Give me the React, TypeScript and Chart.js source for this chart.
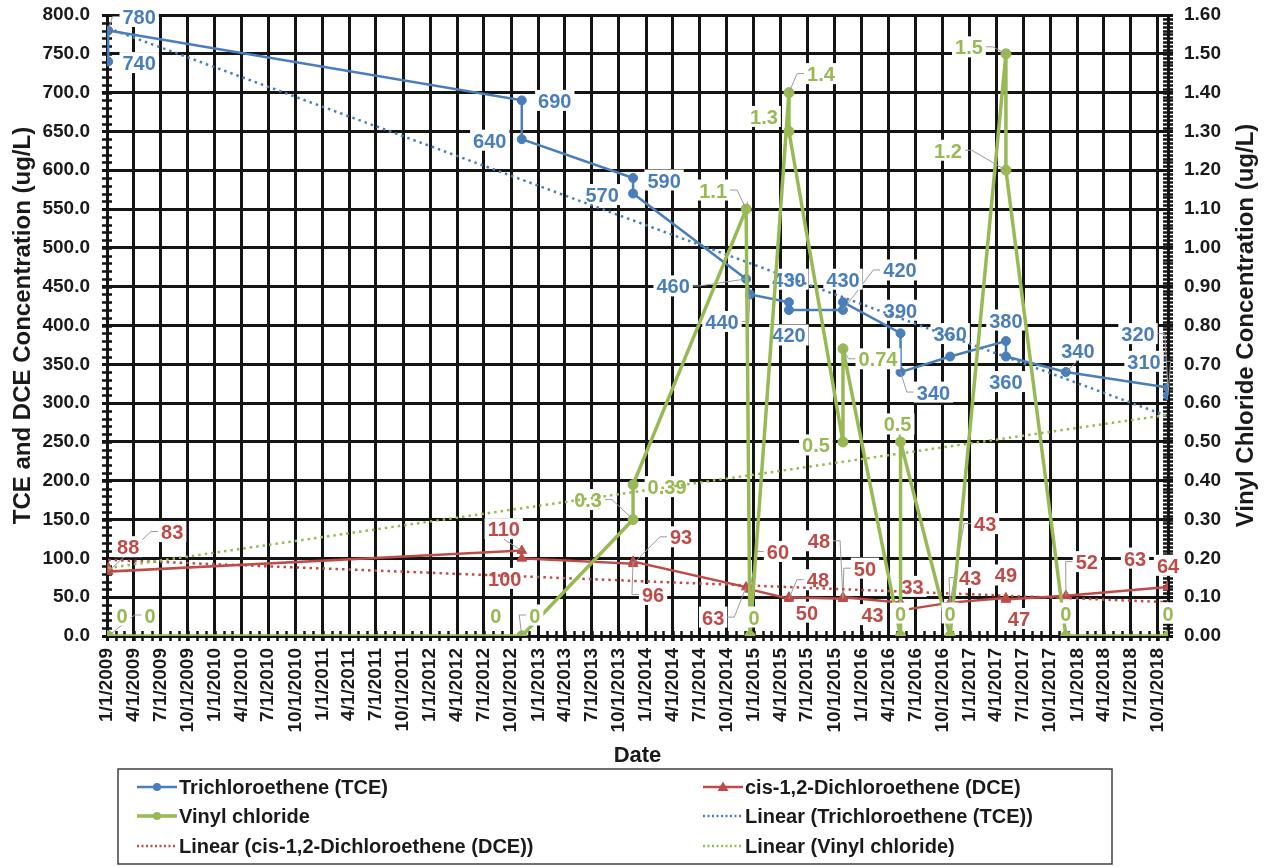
import React, { useEffect, useRef } from 'react';
import { Chart, registerables } from 'chart.js';

Chart.register(...registerables);

// ---------- data ----------
const sampleDates = [
  '1/5/2009', '1/5/2009', '11/6/2012', '11/6/2012', '11/18/2013', '11/18/2013',
  '12/6/2014', '12/19/2014', '4/30/2015', '4/30/2015', '10/30/2015', '10/30/2015',
  '5/12/2016', '5/12/2016', '10/27/2016', '10/27/2016', '5/4/2017', '5/4/2017',
  '11/23/2017', '11/4/2018', '11/4/2018',
];
const tceValues = [740, 780, 690, 640, 590, 570, 460, 440, 430, 420, 420, 430, 390, 340, 360, null, 380, 360, 340, 320, 310];
const dceValues = [88, 83, 110, 100, 93, 96, 63, 60, 48, 50, 48, 50, 43, 33, 43, 43, 49, 47, 52, 63, 64];
const vcValues = [0, 0, 0, 0, 0.3, 0.39, 1.1, 0, 1.4, 1.3, 0.5, 0.74, 0, 0.5, 0, null, 1.5, 1.2, 0, 0, 0];

// linear trend lines (start value, end value)
const tceTrend = [783, 283];
const dceTrend = [98, 43.6];
const vcTrend = [0.175, 0.57];

const xTickLabels = [
  '1/1/2009', '4/1/2009', '7/1/2009', '10/1/2009', '1/1/2010', '4/1/2010', '7/1/2010', '10/1/2010',
  '1/1/2011', '4/1/2011', '7/1/2011', '10/1/2011', '1/1/2012', '4/1/2012', '7/1/2012', '10/1/2012',
  '1/1/2013', '4/1/2013', '7/1/2013', '10/1/2013', '1/1/2014', '4/1/2014', '7/1/2014', '10/1/2014',
  '1/1/2015', '4/1/2015', '7/1/2015', '10/1/2015', '1/1/2016', '4/1/2016', '7/1/2016', '10/1/2016',
  '1/1/2017', '4/1/2017', '7/1/2017', '10/1/2017', '1/1/2018', '4/1/2018', '7/1/2018', '10/1/2018',
];

const seriesNames = [
  'Trichloroethene (TCE)',
  'cis-1,2-Dichloroethene (DCE)',
  'Vinyl chloride',
  'Linear (Trichloroethene (TCE))',
  'Linear (cis-1,2-Dichloroethene (DCE))',
  'Linear (Vinyl chloride)',
];

const leftAxis = { min: 0, max: 800, step: 50, minor: 10 };
const rightAxis = { min: 0, max: 1.6, step: 0.1, minor: 0.01 };

// ---------- label placement (offset of label centre from its point, leader flag) ----------
const tceLabelPos: number[][] = [
  [31, 1, 0], [31, -14, 1], [33, 0, 0], [-32, 1, 0], [31, 2, 0], [-31, 1, 0],
  [-73, 7, 1], [-28, 27, 1], [0, -23, 0], [0, 25, 0], [57, -40, 1], [0, -23, 0],
  [0, -23, 0], [33, 20, 1], [0, -23, 0], [0, 0, 0], [0, -21, 0], [0, 25, 0],
  [12, -22, 1], [-30, -54, 1], [-24, -34, 1],
];
const dceLabelPos: number[][] = [
  [20, -21, 0], [64, -40, 1], [-18, -22, 1], [-17, 20, 0], [48, -27, 1], [20, 33, 1],
  [-33, 30, 1], [28, -38, 1], [29, -19, 1], [18, 15, 0], [-24, -58, 1], [22, -29, 1],
  [-28, 12, 0], [12, -24, 0], [20, -25, 1], [35, -79, 1], [0, -23, 0], [13, 19, 0],
  [21, -34, 1], [-33, -29, 0], [0, -21, 0],
];
const vcLabelPos: number[][] = [
  [14, -21, 0], [42, -21, 1], [-26, -21, 0], [13, -21, 1], [-45, -20, 1], [34, 2, 0],
  [-33, -19, 1], [4, -19, 0], [32, -19, 1], [-25, -15, 0], [-27, 3, 0], [35, 10, 1],
  [0, -23, 0], [-3, -18, 0], [0, -23, 0], [0, 0, 0], [-37, -7, 1], [-58, -20, 1],
  [0, -23, 0], [0, -23, 0], [0, -23, 0],
];

// ---------- styles ----------
const BLUE = '#4a7ebb';
const RED = '#be4b48';
const GREEN = '#98b954';
const INK = '#1a1a1a';
const GRID = '#141414';
const FONT = '"Liberation Sans", Arial, Helvetica, sans-serif';

const parseDate = (s: string) => {
  const [m, d, y] = s.split('/').map(Number);
  return Date.UTC(y, m - 1, d);
};
const fmtDate = (v: number) => {
  const d = new Date(v);
  return `${d.getUTCMonth() + 1}/${d.getUTCDate()}/${d.getUTCFullYear()}`;
};

const xs = sampleDates.map(parseDate);
const xTicks = xTickLabels.map(parseDate);
const xMin = xTicks[0];
const xMax = xs[xs.length - 1];

const toPoints = (vals: (number | null)[]) => vals.map((v, i) => ({ x: xs[i], y: v }));

function drawLabels(chart: any, dsIndex: number, values: (number | null)[], pos: number[][], color: string) {
  const meta = chart.getDatasetMeta(dsIndex);
  const ctx: CanvasRenderingContext2D = chart.ctx;
  ctx.save();
  ctx.font = `bold 20px ${FONT}`;
  const boxes: any[] = [];
  values.forEach((v, i) => {
    if (v === null || v === undefined) return;
    const el = meta.data[i];
    if (!el) return;
    const text = String(v);
    const w = ctx.measureText(text).width + 6;
    const h = 21;
    boxes.push({ text, w, h, px: el.x, py: el.y, cx: el.x + pos[i][0], cy: el.y + pos[i][1], lead: pos[i][2] });
  });
  ctx.strokeStyle = '#9a9a9a';
  ctx.lineWidth = 1;
  for (const b of boxes) {
    if (!b.lead) continue;
    const left = b.cx - b.w / 2, right = b.cx + b.w / 2, top = b.cy - b.h / 2, bottom = b.cy + b.h / 2;
    ctx.beginPath();
    if (b.px < left - 2 || b.px > right + 2) {
      const sx = b.px < left ? left : right;
      const ex = b.px < left ? sx - 7 : sx + 7;
      ctx.moveTo(sx, b.cy);
      ctx.lineTo(ex, b.cy);
      ctx.lineTo(b.px, b.py);
    } else {
      const sy = b.py < top ? top : bottom;
      ctx.moveTo(b.cx, sy);
      ctx.lineTo(b.px, b.py);
    }
    ctx.stroke();
  }
  ctx.textAlign = 'center';
  ctx.textBaseline = 'alphabetic';
  for (const b of boxes) {
    ctx.fillStyle = '#ffffff';
    ctx.fillRect(b.cx - b.w / 2, b.cy - b.h / 2, b.w, b.h);
    ctx.fillStyle = color;
    ctx.fillText(b.text, b.cx, b.cy + 7.5);
  }
  ctx.restore();
}

const chartPlugin = {
  id: 'excelLook',
  beforeDraw(chart: any) {
    const ctx = chart.ctx;
    ctx.save();
    ctx.fillStyle = '#ffffff';
    ctx.fillRect(0, 0, chart.width, chart.height);
    ctx.restore();
  },
  beforeDatasetsDraw(chart: any) {
    const ctx: CanvasRenderingContext2D = chart.ctx;
    const { x, y, y2 } = chart.scales;
    const area = chart.chartArea;
    ctx.save();
    ctx.strokeStyle = GRID;
    ctx.lineWidth = 2.5;
    ctx.beginPath();
    for (let v = leftAxis.min; v <= leftAxis.max + 1e-9; v += leftAxis.minor) {
      const py = Math.round(y.getPixelForValue(v)) + 0.5;
      ctx.moveTo(area.left - 5, py);
      ctx.lineTo(area.left + 5, py);
    }
    for (let k = 0; k <= Math.round((rightAxis.max - rightAxis.min) / rightAxis.minor); k++) {
      const v = rightAxis.min + k * rightAxis.minor;
      const py = Math.round(y2.getPixelForValue(v)) + 0.5;
      ctx.moveTo(area.right - 5, py);
      ctx.lineTo(area.right + 5, py);
    }
    for (const t of xTicks) {
      const d = new Date(t);
      for (let k = 0; k < 3; k++) {
        const mv = Date.UTC(d.getUTCFullYear(), d.getUTCMonth() + k, 1);
        if (mv > xMax) continue;
        const px = Math.round(x.getPixelForValue(mv)) + 0.5;
        ctx.moveTo(px, area.bottom - 5);
        ctx.lineTo(px, area.bottom + 5);
      }
    }
    ctx.stroke();
    ctx.restore();
  },
  afterDatasetDraw(chart: any, args: any) {
    if (args.index === 1) {
      drawLabels(chart, 0, tceValues, tceLabelPos, BLUE);
      drawLabels(chart, 1, dceValues, dceLabelPos, RED);
    }
    if (args.index === 2) {
      drawLabels(chart, 2, vcValues, vcLabelPos, GREEN);
    }
  },
  afterDraw(chart: any) {
    const ctx: CanvasRenderingContext2D = chart.ctx;
    const area = chart.chartArea;
    ctx.save();
    ctx.fillStyle = INK;
    ctx.textAlign = 'center';
    ctx.textBaseline = 'middle';
    ctx.font = `bold 24px ${FONT}`;
    const midY = (area.top + area.bottom) / 2;
    ctx.save();
    ctx.translate(23, midY);
    ctx.rotate(-Math.PI / 2);
    ctx.fillText('TCE and DCE Concentration (ug/L)', 0, 0);
    ctx.restore();
    ctx.save();
    ctx.translate(1246, midY);
    ctx.rotate(-Math.PI / 2);
    ctx.fillText('Vinyl Chloride Concentration (ug/L)', 0, 0);
    ctx.restore();
    ctx.font = `bold 22px ${FONT}`;
    ctx.fillText('Date', (area.left + area.right) / 2, 756);

    const lx = 118, ly = 769, lw = 994, lh = 95;
    ctx.strokeStyle = '#404040';
    ctx.lineWidth = 1.5;
    ctx.strokeRect(lx, ly, lw, lh);
    const rows = [787, 816, 846];
    const cols = [137, 703];
    const entries = [
      { name: seriesNames[0], color: BLUE, dash: false, marker: 'circle', width: 2.5 },
      { name: seriesNames[1], color: RED, dash: false, marker: 'triangle', width: 2.5 },
      { name: seriesNames[2], color: GREEN, dash: false, marker: 'circle', width: 3.5 },
      { name: seriesNames[3], color: BLUE, dash: true, marker: '', width: 2.5 },
      { name: seriesNames[4], color: RED, dash: true, marker: '', width: 2.5 },
      { name: seriesNames[5], color: GREEN, dash: true, marker: '', width: 2.5 },
    ];
    ctx.font = `bold 20px ${FONT}`;
    ctx.textAlign = 'left';
    ctx.textBaseline = 'alphabetic';
    entries.forEach((e, i) => {
      const cx = cols[i % 2];
      const cy = rows[Math.floor(i / 2)];
      ctx.strokeStyle = e.color;
      ctx.fillStyle = e.color;
      ctx.lineWidth = e.width;
      ctx.setLineDash(e.dash ? [2, 2.5] : []);
      ctx.beginPath();
      ctx.moveTo(cx, cy);
      ctx.lineTo(cx + 40, cy);
      ctx.stroke();
      ctx.setLineDash([]);
      if (e.marker === 'circle') {
        ctx.beginPath();
        ctx.arc(cx + 20, cy, 4, 0, Math.PI * 2);
        ctx.fill();
      } else if (e.marker === 'triangle') {
        ctx.beginPath();
        ctx.moveTo(cx + 20, cy - 5.5);
        ctx.lineTo(cx + 25.5, cy + 4);
        ctx.lineTo(cx + 14.5, cy + 4);
        ctx.closePath();
        ctx.fill();
      }
      ctx.fillStyle = INK;
      ctx.fillText(e.name, cx + 42, cy + 7);
    });
    ctx.restore();
  },
};

export default function App() {
  const ref = useRef<HTMLCanvasElement | null>(null);
  useEffect(() => {
    if (!ref.current) return;
    const tickFont = { family: FONT, size: 19, weight: 'bold' as const };
    const yTickFont = { family: FONT, size: 19, weight: 'bold' as const, lineHeight: 0.3 };
    const chart = new Chart(ref.current, {
      type: 'line',
      data: {
        datasets: [
          {
            label: seriesNames[0], data: toPoints(tceValues), yAxisID: 'y', order: 7,
            borderColor: BLUE, backgroundColor: BLUE, borderWidth: 2.5,
            pointStyle: 'circle', pointRadius: 4.5, pointBorderWidth: 1, spanGaps: true,
          },
          {
            label: seriesNames[1], data: toPoints(dceValues), yAxisID: 'y', order: 6,
            borderColor: RED, backgroundColor: RED, borderWidth: 2.5,
            pointStyle: 'triangle', pointRadius: 5.5, pointBorderWidth: 1, spanGaps: true,
          },
          {
            label: seriesNames[2], data: toPoints(vcValues), yAxisID: 'y2', order: 2,
            borderColor: GREEN, backgroundColor: GREEN, borderWidth: 3.5,
            pointStyle: 'circle', pointRadius: 5, pointBorderWidth: 1, spanGaps: true,
          },
          {
            label: seriesNames[3], data: [{ x: xs[0], y: tceTrend[0] }, { x: xMax, y: tceTrend[1] }],
            yAxisID: 'y', order: 4, borderColor: BLUE, borderWidth: 2.5, borderDash: [2.5, 4], pointRadius: 0,
          },
          {
            label: seriesNames[4], data: [{ x: xs[0], y: dceTrend[0] }, { x: xMax, y: dceTrend[1] }],
            yAxisID: 'y', order: 3, borderColor: RED, borderWidth: 2.5, borderDash: [2.5, 4], pointRadius: 0,
          },
          {
            label: seriesNames[5], data: [{ x: xs[0], y: vcTrend[0] }, { x: xMax, y: vcTrend[1] }],
            yAxisID: 'y2', order: 1, borderColor: GREEN, borderWidth: 2.5, borderDash: [2.5, 4], pointRadius: 0,
          },
        ],
      },
      options: {
        responsive: false,
        animation: false,
        devicePixelRatio: 1,
        layout: { autoPadding: false, padding: { top: 15, left: 0, right: 0, bottom: 0 } },
        plugins: { legend: { display: false }, tooltip: { enabled: false }, title: { display: false } },
        elements: { line: { tension: 0 } },
        scales: {
          x: {
            type: 'linear', min: xMin, max: xMax,
            afterBuildTicks: (scale: any) => { scale.ticks = xTicks.map((v) => ({ value: v })); },
            afterFit: (scale: any) => { scale.height = 231; },
            ticks: {
              autoSkip: false, minRotation: 90, maxRotation: 90, padding: 7,
              font: tickFont, color: INK, callback: (v: any) => fmtDate(Number(v)),
            },
            grid: { color: GRID, lineWidth: 3, tickLength: 5, tickColor: GRID, tickWidth: 3 },
            border: { color: GRID, width: 3 },
          },
          y: {
            position: 'left', min: leftAxis.min, max: leftAxis.max,
            afterFit: (scale: any) => { scale.width = 107; },
            ticks: { stepSize: leftAxis.step, font: yTickFont, color: INK, padding: 12, callback: (v: any) => Number(v).toFixed(1) },
            grid: { color: GRID, lineWidth: 3, tickLength: 5, tickColor: GRID, tickWidth: 3 },
            border: { color: GRID, width: 3 },
          },
          y2: {
            position: 'right', min: rightAxis.min, max: rightAxis.max,
            afterFit: (scale: any) => { scale.width = 97; },
            ticks: { stepSize: rightAxis.step, font: yTickFont, color: INK, padding: 11, callback: (v: any) => Number(v).toFixed(2) },
            grid: { drawOnChartArea: false, color: GRID, lineWidth: 3, tickLength: 5, tickColor: GRID, tickWidth: 3 },
            border: { color: GRID, width: 3 },
          },
        },
      },
      plugins: [chartPlugin],
    } as any);
    return () => chart.destroy();
  }, []);
  return (
    <div style={{ position: 'absolute', left: 0, top: 0, width: 1265, height: 867, background: '#fff' }}>
      <canvas ref={ref} width={1265} height={867} style={{ width: 1265, height: 867, display: 'block' }} />
    </div>
  );
}
